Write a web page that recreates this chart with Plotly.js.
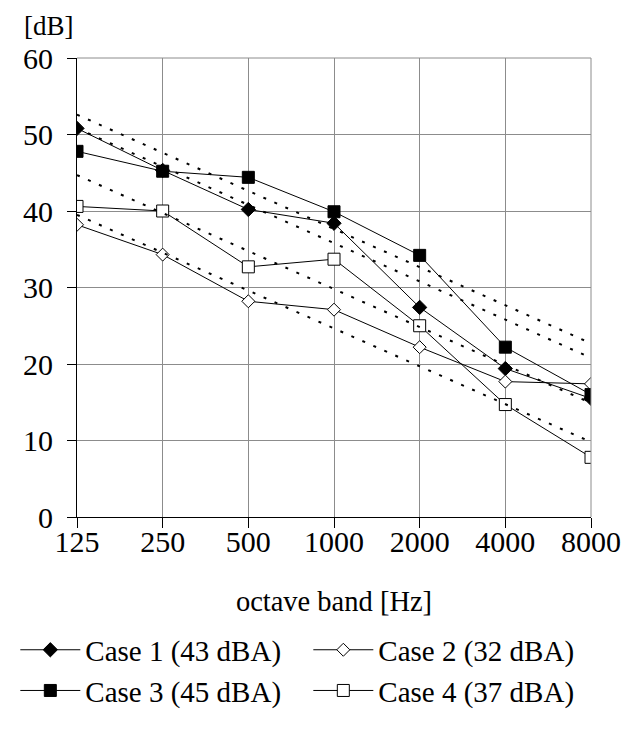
<!DOCTYPE html>
<html>
<head>
<meta charset="utf-8">
<script src="https://cdn.plot.ly/plotly-3.0.1.min.js"></script>
<style>html,body{margin:0;padding:0;background:#fff;}#chart{width:639px;height:729px;}</style>
</head>
<body>
<div id="chart"></div>
<script>
var bands = ['125', '250', '500', '1000', '2000', '4000', '8000'];
var case1 = [50.8, 45.3, 40.2, 38.4, 27.4, 19.4, 15.5];
var case2 = [38.2, 34.3, 28.2, 27.1, 22.2, 17.7, 17.4];
var case3 = [47.8, 45.2, 44.4, 39.9, 34.2, 22.2, 16.0];
var case4 = [40.6, 40.0, 32.7, 33.7, 25.0, 14.7, 7.8];
var trendEnds = ['125', '8000'];
var trend1 = [52.6, 22.7];
var trend2 = [50.8, 20.8];
var trend3 = [44.7, 14.9];
var trend4 = [39.5, 9.8];
var names = ['Case 1 (43 dBA)', 'Case 2 (32 dBA)', 'Case 3 (45 dBA)', 'Case 4 (37 dBA)'];

var FONT = 'Liberation Serif, Times New Roman, serif';

function trend(y) {
  return {x: trendEnds, y: y, type: 'scatter', mode: 'lines', showlegend: false, hoverinfo: 'skip',
    line: {color: '#000', width: 2, dash: '3px,9px'}};
}
function series(y, name, symbol, size, fill) {
  return {x: bands, y: y, name: name, type: 'scatter', mode: 'lines+markers',
    line: {color: '#000', width: 1},
    marker: {symbol: symbol, size: size, color: fill, line: {color: '#000', width: 1}}};
}

var data = [
  series(case1, names[0], 'diamond', 11, '#000'),
  series(case2, names[1], 'diamond', 10, '#fff'),
  series(case3, names[2], 'square', 12, '#000'),
  series(case4, names[3], 'square', 12, '#fff'),
  trend(trend1), trend(trend2), trend(trend3), trend(trend4)
];

var layout = {
  width: 639, height: 729,
  margin: {l: 77, r: 48, t: 57.5, b: 210},
  paper_bgcolor: '#fff', plot_bgcolor: '#fff',
  font: {family: FONT, size: 28, color: '#000'},
  showlegend: true,
  xaxis: {
    type: 'category', categoryorder: 'array', categoryarray: bands, range: [0, 6],
    showgrid: true, gridcolor: '#8c8c8c', gridwidth: 1,
    showline: true, linecolor: '#000', linewidth: 1,
    ticks: 'outside', ticklen: 10, tickcolor: '#000', tickwidth: 1, ticklabelstandoff: -12,
    tickfont: {family: FONT, size: 30, color: '#000'},
    title: {text: 'octave band [Hz]', font: {family: FONT, size: 28.5, color: '#000'}, standoff: 34},
    automargin: false, zeroline: false
  },
  yaxis: {
    range: [0, 60], dtick: 10, showgrid: true, gridcolor: '#8c8c8c', gridwidth: 1,
    showline: true, linecolor: '#000', linewidth: 1,
    ticks: 'outside', ticklen: 9, tickcolor: '#000', tickwidth: 1, ticklabelstandoff: 8,
    tickfont: {family: FONT, size: 30, color: '#000'},
    automargin: false, zeroline: false
  },
  shapes: [
    {type: 'line', xref: 'paper', yref: 'paper', x0: 0, x1: 1, y0: 1, y1: 1, line: {color: '#8c8c8c', width: 1}},
    {type: 'line', xref: 'paper', yref: 'paper', x0: 1, x1: 1, y0: 0, y1: 1, line: {color: '#8c8c8c', width: 1}}
  ],
  annotations: [
    {text: '[dB]', xref: 'paper', yref: 'paper', x: -0.107, y: 1.069, xanchor: 'left', yanchor: 'middle',
      showarrow: false, font: {family: FONT, size: 27, color: '#000'}}
  ],
  legend: {
    orientation: 'h', x: -0.12, xanchor: 'left', y: -0.234, yanchor: 'top',
    font: {family: FONT, size: 29, color: '#000'},
    itemwidth: 60, entrywidth: 218, entrywidthmode: 'pixels',
    bgcolor: 'rgba(0,0,0,0)', tracegroupgap: 0, itemclick: false
  }
};

Plotly.newPlot('chart', data, layout, {displayModeBar: false, staticPlot: true});
</script>
</body>
</html>
